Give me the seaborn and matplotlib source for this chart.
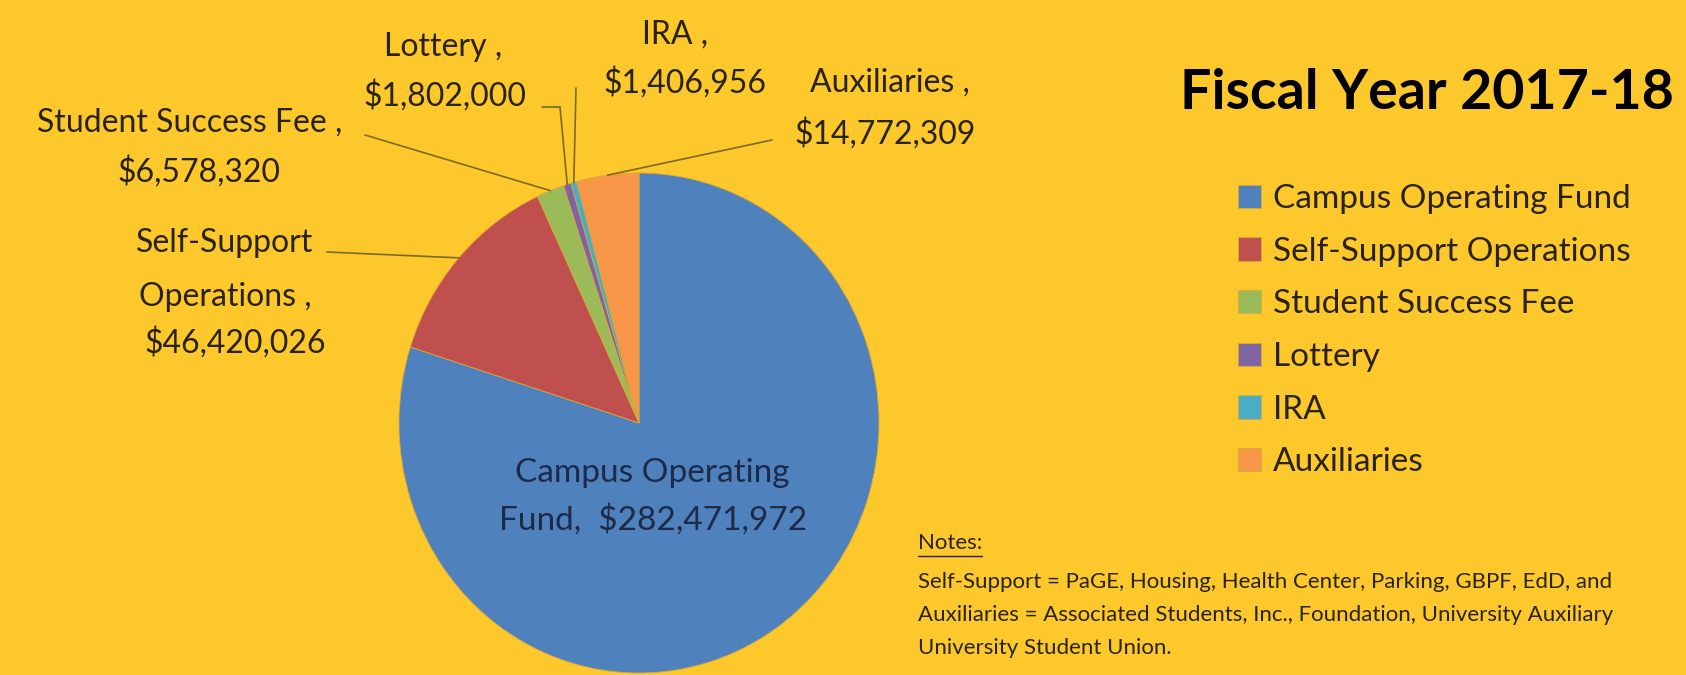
import numpy as np
import matplotlib
matplotlib.use("Agg")
import matplotlib.pyplot as plt
import seaborn as sns
from matplotlib.lines import Line2D

# data
categories = ["Campus Operating Fund", "Self-Support Operations", "Student Success Fee",
              "Lottery", "IRA", "Auxiliaries"]
amounts = [282471972, 46420026, 6578320, 1802000, 1406956, 14772309]
title = "Fiscal Year 2017-18"
notes = ["Self-Support = PaGE, Housing, Health Center, Parking, GBPF, EdD, and",
         "Auxiliaries = Associated Students, Inc., Foundation, University Auxiliary",
         "University Student Union."]

BG = "#FDC82C"
LINE = "#7d6a26"
TXT = "#29230e"
palette = sns.color_palette(["#4F81BD", "#C0504D", "#9BBB59", "#8064A2", "#4BACC6", "#F79646"])

sns.set_theme(style="white", rc={"figure.facecolor": BG, "axes.facecolor": BG})
plt.rcParams["font.family"] = ["Lato", "DejaVu Sans"]

W, H = 1686, 675


def fx(px):
    return px / W


def fy(py):
    return 1 - py / H


fig = plt.figure(figsize=(W / 100, H / 100), dpi=100, facecolor=BG)

# pie centre (639, 423) px, radius 240 x 250 px
cx, cy, rx, ry = 639, 423, 240, 250
ax = fig.add_axes([fx(cx - rx), fy(cy + ry), 2 * rx / W, 2 * ry / H])
wedges, _ = ax.pie(amounts, colors=palette, startangle=90, counterclock=False, radius=1,
                   wedgeprops=dict(edgecolor="#d8a93a", linewidth=0.6))
ax.set_aspect("auto")
ax.set_xlim(-1, 1)
ax.set_ylim(-1, 1)
ax.axis("off")


def money(v):
    return f"${v:,}"


# label lines: (text, x centre, y centre) in px
label_lines = {
    1: [("Self-Support", 225, 243), ("Operations ,", 225, 297), (money(amounts[1]), 235, 343)],
    2: [(categories[2] + " ,", 190, 123), (money(amounts[2]), 199, 172)],
    3: [(categories[3] + " ,", 443, 47), (money(amounts[3]), 445, 96)],
    4: [(categories[4] + " ,", 675, 35), (money(amounts[4]), 685, 83)],
    5: [(categories[5] + " ,", 890, 83), (money(amounts[5]), 885, 134)],
}
# leader line start points (px)
leader_start = {1: [(327, 252)], 2: [(365, 135)], 3: [(542, 107), (560, 107)],
                4: [(576, 88)], 5: [(772, 140)]}

for i, lines in label_lines.items():
    for t, x, y in lines:
        fig.text(fx(x), fy(y), t, ha="center", va="center", fontsize=23, color=TXT)
    w = wedges[i]
    mid = np.deg2rad((w.theta1 + w.theta2) / 2)
    pts = leader_start[i]
    if len(pts) > 1:
        fig.add_artist(Line2D([fx(p[0]) for p in pts], [fy(p[1]) for p in pts],
                              color=LINE, lw=1.2, transform=fig.transFigure))
    ax.annotate("", xy=(np.cos(mid), np.sin(mid)), xycoords="data",
                xytext=(fx(pts[-1][0]), fy(pts[-1][1])), textcoords="figure fraction",
                arrowprops=dict(arrowstyle="-", color=LINE, lw=1.2, shrinkA=0, shrinkB=0),
                annotation_clip=False)

# label inside the big slice
fig.text(fx(652), fy(473), "Campus Operating", ha="center", va="center", fontsize=24, color="#1d2a48")
fig.text(fx(653), fy(520), "Fund,  " + money(amounts[0]), ha="center", va="center",
         fontsize=24, color="#1d2a48")

# title
fig.text(fx(1180), fy(93), title, ha="left", va="center", fontsize=40, fontweight="bold", color="black")

# legend
leg = fig.legend(wedges, categories, loc="upper left", bbox_to_anchor=(fx(1238), fy(184)),
                 frameon=False, fontsize=24, handlelength=0.7, handleheight=0.7,
                 handletextpad=0.35, labelspacing=0.68, borderpad=0, borderaxespad=0)
for t in leg.get_texts():
    t.set_color(TXT)

# notes
nt = fig.text(fx(918), fy(543), "Notes:", ha="left", va="center", fontsize=16, color=TXT)
for line, y in zip(notes, [582, 615, 648]):
    fig.text(fx(918), fy(y), line, ha="left", va="center", fontsize=16, color=TXT)

fig.canvas.draw()
bb = nt.get_window_extent().transformed(fig.transFigure.inverted())
fig.add_artist(Line2D([bb.x0, bb.x1], [bb.y0 - 0.004, bb.y0 - 0.004], color=TXT, lw=1,
                      transform=fig.transFigure))

fig.savefig("out.png", dpi=100, facecolor=BG)
